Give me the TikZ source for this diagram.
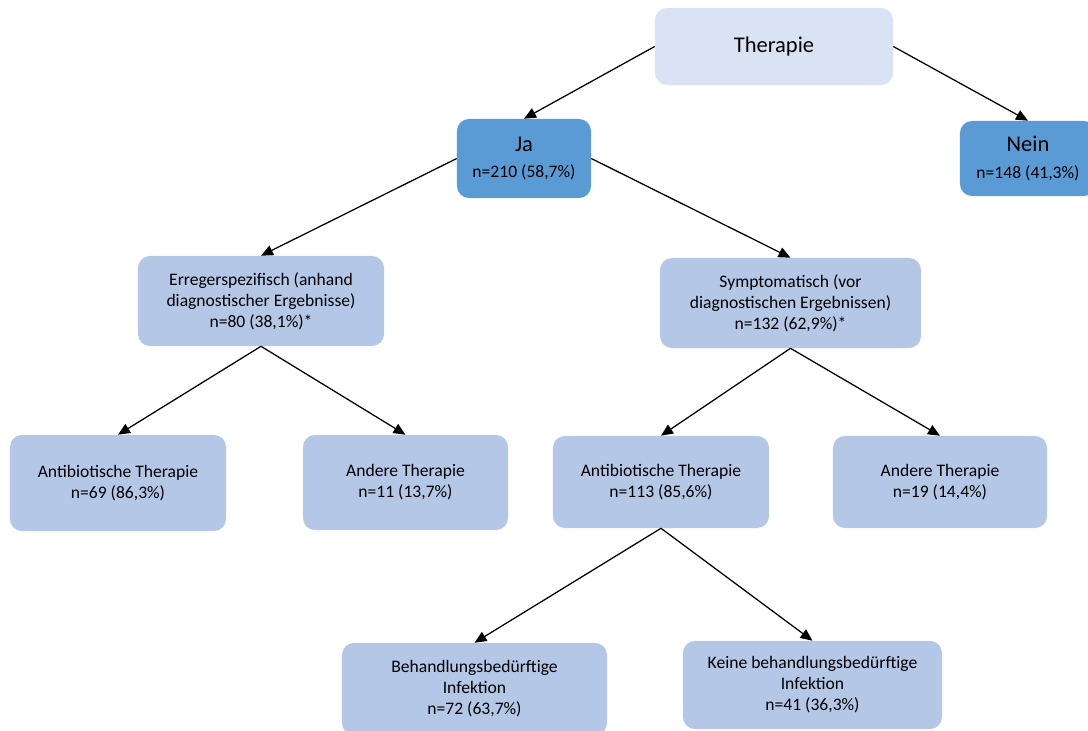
\documentclass[tikz,border=0pt]{standalone}
\usepackage{fontspec}
\setmainfont{Carlito}
\usetikzlibrary{arrows.meta,positioning}
\definecolor{theraLight}{RGB}{218,227,243}
\definecolor{theraMid}{RGB}{91,155,213}
\definecolor{theraPale}{RGB}{180,199,231}

\begin{document}
\begin{tikzpicture}[x=0.025cm, y=-0.025cm,
  box/.style={rounded corners=0.3cm, inner sep=0pt, align=center,
              font=\fontsize{12.5}{15}\selectfont, fill=theraPale},
  big/.style={font=\fontsize{16}{18}\selectfont},
  link/.style={-{Triangle[length=0.3cm,width=0.26cm]}, line width=0.9pt}
]
  \clip (0,0) rectangle (1088,731);

  \node[box, big, fill=theraLight, minimum width=5.95cm, minimum height=1.925cm] (thera) at (774,46.5) {Therapie};
  \node[box, fill=theraMid, minimum width=3.35cm, minimum height=1.975cm] (ja)   at (524,158.5) {{\fontsize{16}{18}\selectfont Ja}\\[4pt]n=210 (58,7\%)};
  \node[box, fill=theraMid, minimum width=3.4cm, minimum height=1.875cm]  (nein) at (1028,158.5) {{\fontsize{16}{18}\selectfont Nein}\\[4pt]n=148 (41,3\%)};

  \node[box, minimum width=6.15cm, minimum height=2.25cm]  (erreger) at (261,301) {Erregerspezifisch (anhand\\diagnostischer Ergebnisse)\\n=80 (38,1\%)*};
  \node[box, minimum width=6.525cm, minimum height=2.25cm] (sympt)   at (790.5,303) {Symptomatisch (vor\\diagnostischen Ergebnissen)\\n=132 (62,9\%)*};

  \node[box, minimum width=5.4cm, minimum height=2.4cm]    (antibE)  at (118,483) {Antibiotische Therapie\\n=69 (86,3\%)};
  \node[box, minimum width=5.125cm, minimum height=2.375cm] (andereE) at (405.5,482.5) {Andere Therapie\\n=11 (13,7\%)};
  \node[box, minimum width=5.4cm, minimum height=2.3cm]    (antibS)  at (661,482) {Antibiotische Therapie\\n=113 (85,6\%)};
  \node[box, minimum width=5.35cm, minimum height=2.3cm]   (andereS) at (940,482) {Andere Therapie\\n=19 (14,4\%)};

  \node[box, minimum width=6.625cm, minimum height=2.3cm]  (behand)  at (474.5,689) {Behandlungsbedürftige\\Infektion\\n=72 (63,7\%)};
  \node[box, minimum width=6.475cm, minimum height=2.2cm]  (keine)   at (812.5,685) {Keine behandlungsbedürftige\\Infektion\\n=41 (36,3\%)};

  \draw[link] (thera.west) -- (ja.north);
  \draw[link] (thera.east) -- (nein.north);
  \draw[link] (ja.west) -- (erreger.north);
  \draw[link] (ja.east) -- (sympt.north);
  \draw[link] (erreger.south) -- (antibE.north);
  \draw[link] (erreger.south) -- (andereE.north);
  \draw[link] (sympt.south) -- (antibS.north);
  \draw[link] (sympt.south) -- (andereS.north);
  \draw[link] (antibS.south) -- (behand.north);
  \draw[link] (antibS.south) -- (keine.north);
\end{tikzpicture}
\end{document}
